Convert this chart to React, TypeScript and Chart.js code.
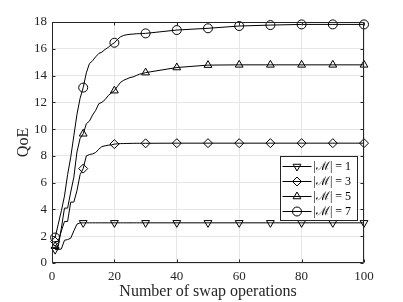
import React, { useEffect, useRef } from "react";
import { Chart, registerables } from "chart.js";
import { drawPoint } from "chart.js/helpers";

Chart.register(...registerables);

const xValues = [1, 2, 3, 4, 5, 6, 7, 8, 9, 10, 11, 12, 13, 14, 15, 16, 17, 18, 19, 20, 21, 22, 23, 24, 25, 26, 27, 28, 29, 30, 40, 50, 60, 70, 80, 90, 100];
const qoeM1 = [1.0, 1.0, 1.05, 1.7, 1.75, 1.85, 2.4, 2.9, 3.0, 3.0, 3.0, 3.0, 3.0, 3.0, 3.0, 3.0, 3.0, 3.0, 3.0, 3.0, 3.0, 3.0, 3.0, 3.0, 3.0, 3.0, 3.0, 3.0, 3.0, 3.0, 3.0, 3.0, 3.0, 3.0, 3.0, 3.0, 3.0];
const qoeM3 = [1.6, 1.6, 2.4, 3.1, 3.1, 4.55, 4.55, 5.4, 6.6, 7.05, 8.0, 8.1, 8.15, 8.25, 8.5, 8.7, 8.75, 8.8, 8.82, 8.88, 8.9, 8.92, 8.92, 8.93, 8.93, 8.94, 8.94, 8.94, 8.94, 8.94, 8.95, 8.95, 8.95, 8.95, 8.95, 8.95, 8.95];
const qoeM5 = [1.25, 1.25, 2.6, 4.1, 4.1, 5.3, 6.4, 8.3, 9.3, 9.65, 10.4, 10.6, 11.05, 11.4, 11.9, 12.0, 12.2, 12.5, 12.7, 12.87, 13.2, 13.5, 13.65, 13.75, 13.85, 13.9, 14.0, 14.1, 14.15, 14.22, 14.6, 14.78, 14.8, 14.8, 14.8, 14.8, 14.8];
const qoeM7 = [1.9, 2.9, 3.9, 5.0, 6.6, 7.9, 9.5, 11.1, 12.3, 13.1, 14.2, 14.9, 15.1, 15.4, 15.65, 15.75, 15.95, 16.1, 16.3, 16.45, 16.7, 16.9, 17.0, 17.05, 17.08, 17.1, 17.12, 17.13, 17.14, 17.15, 17.4, 17.53, 17.7, 17.77, 17.82, 17.82, 17.82];
const markerXs = [1, 10, 20, 30, 40, 50, 60, 70, 80, 90, 100];
const xTickValues = [0, 20, 40, 60, 80, 100];
const yTickValues = [0, 2, 4, 6, 8, 10, 12, 14, 16, 18];
const seriesLabels = ["|ℳ| = 1", "|ℳ| = 3", "|ℳ| = 5", "|ℳ| = 7"];
const xTitle = "Number of swap operations";
const yTitle = "QoE";

const FONT = "'Liberation Serif', 'DejaVu Serif', serif";
const AXIS_COLOR = "#262626";
const MARKER_R = 4.5;

const framePlugin = {
  id: "frameAndLegend",
  afterDraw(chart: any) {
    const { ctx, chartArea: a, scales } = chart;
    ctx.save();
    ctx.strokeStyle = AXIS_COLOR;
    ctx.lineWidth = 1;
    const L = Math.round(a.left) + 0.5;
    const R = Math.round(a.right) - 0.5;
    const T = Math.round(a.top) + 0.5;
    const B = Math.round(a.bottom) - 0.5;
    ctx.beginPath();
    ctx.rect(L, T, R - L, B - T);
    ctx.stroke();
    const tl = 3;
    ctx.beginPath();
    for (const v of xTickValues) {
      const px = Math.round(scales.x.getPixelForValue(v)) + 0.5;
      ctx.moveTo(px, B);
      ctx.lineTo(px, B - tl);
      ctx.moveTo(px, T);
      ctx.lineTo(px, T + tl);
    }
    for (const v of yTickValues) {
      const py = Math.round(scales.y.getPixelForValue(v)) + 0.5;
      ctx.moveTo(L, py);
      ctx.lineTo(L + tl, py);
      ctx.moveTo(R, py);
      ctx.lineTo(R - tl, py);
    }
    ctx.stroke();

    // legend
    const boxW = 77;
    const boxH = 64;
    const bx = Math.round(a.right) - 84 + 0.5;
    const by = Math.round(a.top) + 134 + 0.5;
    ctx.fillStyle = "#ffffff";
    ctx.fillRect(bx, by, boxW, boxH);
    ctx.strokeStyle = AXIS_COLOR;
    ctx.strokeRect(bx, by, boxW, boxH);
    ctx.font = `12px ${FONT}`;
    ctx.textBaseline = "middle";
    ctx.textAlign = "left";
    chart.data.datasets.forEach((ds: any, i: number) => {
      const cy = by + 10 + i * 15;
      ctx.strokeStyle = "#000";
      ctx.lineWidth = 1;
      ctx.beginPath();
      ctx.moveTo(bx + 2, cy);
      ctx.lineTo(bx + 31, cy);
      ctx.stroke();
      ctx.fillStyle = "rgba(0,0,0,0)";
      drawPoint(ctx, { pointStyle: ds.pointStyle, rotation: ds.pointRotation || 0, radius: MARKER_R, borderWidth: 1 }, bx + 16.5, cy);
      ctx.fillStyle = "#000";
      ctx.fillText(ds.label, bx + 33, cy + 0.5);
    });
    ctx.restore();
  },
};

export default function App() {
  const ref = useRef<HTMLCanvasElement | null>(null);
  useEffect(() => {
    if (!ref.current) return;
    const series = [
      { label: seriesLabels[0], values: qoeM1, style: "triangle", rot: 180 },
      { label: seriesLabels[1], values: qoeM3, style: "rectRot", rot: 0 },
      { label: seriesLabels[2], values: qoeM5, style: "triangle", rot: 0 },
      { label: seriesLabels[3], values: qoeM7, style: "circle", rot: 0 },
    ];
    const chart = new Chart(ref.current, {
      type: "line",
      data: {
        datasets: series.map((s) => ({
          label: s.label,
          data: xValues.map((x, i) => ({ x, y: s.values[i] })),
          borderColor: "#000",
          borderWidth: 1,
          pointStyle: s.style,
          pointRotation: s.rot,
          pointBackgroundColor: "rgba(0,0,0,0)",
          pointBorderColor: "#000",
          pointBorderWidth: 1,
          pointRadius: (c: any) => (markerXs.includes(xValues[c.dataIndex]) ? MARKER_R : 0),
          tension: 0,
          clip: false,
        })) as any,
      },
      options: {
        animation: false,
        responsive: false,
        events: [],
        layout: { padding: { top: 22, right: 39, left: 0, bottom: 0 } },
        plugins: { legend: { display: false }, tooltip: { enabled: false } },
        scales: {
          x: {
            type: "linear",
            min: 0,
            max: 100,
            afterBuildTicks: (s: any) => {
              s.ticks = xTickValues.map((v) => ({ value: v }));
            },
            afterFit: (s: any) => {
              s.height = 39;
            },
            grid: { color: "#e6e6e6", drawTicks: false, lineWidth: 1 },
            border: { display: false },
            ticks: { font: { family: FONT, size: 13 }, color: AXIS_COLOR, padding: 6, maxRotation: 0, autoSkip: false },
            title: { display: true, text: xTitle, font: { family: FONT, size: 16 }, color: AXIS_COLOR, padding: { top: 0, bottom: 1 } },
          },
          y: {
            type: "linear",
            min: 0,
            max: 18,
            afterBuildTicks: (s: any) => {
              s.ticks = yTickValues.map((v) => ({ value: v }));
            },
            afterFit: (s: any) => {
              s.width = 52;
            },
            grid: { color: "#e6e6e6", drawTicks: false, lineWidth: 1 },
            border: { display: false },
            ticks: { font: { family: FONT, size: 13 }, color: AXIS_COLOR, padding: 5, autoSkip: false },
            title: { display: true, text: yTitle, font: { family: FONT, size: 16 }, color: AXIS_COLOR, padding: { top: 14, bottom: 0 } },
          },
        },
      } as any,
      plugins: [framePlugin],
    });
    return () => chart.destroy();
  }, []);
  return (
    <div style={{ position: "fixed", left: 0, top: 0, width: 403, height: 302, background: "#fff" }}>
      <canvas ref={ref} width={403} height={302} />
    </div>
  );
}
